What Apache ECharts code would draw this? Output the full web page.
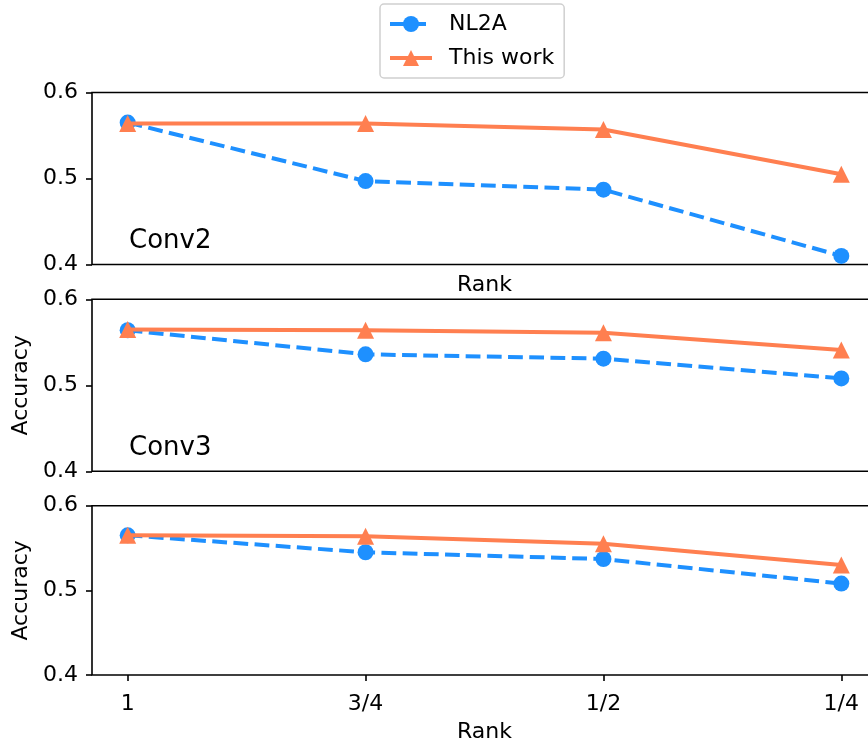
<!DOCTYPE html>
<html>
<head>
<meta charset="utf-8">
<script src="https://cdn.jsdelivr.net/npm/echarts@6/dist/echarts.min.js"></script>
<style>html,body{margin:0;padding:0;background:#fff;overflow:hidden;}#c{width:880px;height:744px;}</style>
</head>
<body>
<div id="c"></div>
<script>
const rankLabels = ["1", "3/4", "1/2", "1/4"];
const yTicks = [0.4, 0.5, 0.6];
const panelNames = ["Conv2", "Conv3", ""];
const nl2a_conv2 = [0.565, 0.497, 0.487, 0.410];
const ours_conv2 = [0.564, 0.564, 0.557, 0.505];
const nl2a_conv3 = [0.564, 0.536, 0.531, 0.508];
const ours_conv3 = [0.565, 0.564, 0.561, 0.541];
const nl2a_conv4 = [0.565, 0.545, 0.537, 0.508];
const ours_conv4 = [0.565, 0.564, 0.555, 0.530];

const nl2aAll = [nl2a_conv2, nl2a_conv3, nl2a_conv4];
const oursAll = [ours_conv2, ours_conv3, ours_conv4];

const BLUE = '#1E90FF', ORANGE = '#FF7F50';
const FONT = 'DejaVu Sans';
const FS = 22;
const tops = [92.5, 299.3, 505.7];
const H = 172;

const toPts = arr => arr.map((v, i) => [i, v]);
const idx = rankLabels.map((_, i) => i);

const grids = [], xAxes = [], yAxes = [], series = [];
for (let p = 0; p < 3; p++) {
  grids.push({left: 92, top: tops[p], width: 785, height: H, show: true,
    borderColor: '#000', borderWidth: 1.6, backgroundColor: 'transparent'});
  const last = p === 2;
  xAxes.push({type: 'value', gridIndex: p, min: -0.15, max: 3.15,
    name: (p === 0 || p === 2) ? 'Rank' : '', nameLocation: 'middle',
    nameGap: p === 0 ? 10 : 46,
    nameTextStyle: {fontFamily: FONT, fontSize: FS, color: '#000'},
    axisLine: {show: false, onZero: false}, splitLine: {show: false},
    axisTick: {show: last, length: 6, lineStyle: {color: '#000', width: 1.6}, customValues: idx},
    axisLabel: {show: last, margin: 18, fontFamily: FONT, fontSize: FS, color: '#000',
      customValues: idx, formatter: v => rankLabels[Math.round(v)]}
  });
  yAxes.push({type: 'value', gridIndex: p, min: 0.4, max: 0.6, interval: 0.1,
    name: p > 0 ? 'Accuracy' : '', nameLocation: 'middle', nameGap: 60, nameRotate: 90,
    nameTextStyle: {fontFamily: FONT, fontSize: FS, color: '#000'},
    axisLine: {show: false, onZero: false}, splitLine: {show: false},
    axisTick: {show: true, length: 6, lineStyle: {color: '#000', width: 1.6}},
    axisLabel: {margin: 14, fontFamily: FONT, fontSize: FS, color: '#000',
      formatter: v => v.toFixed(1)}
  });
  series.push({name: 'NL2A', type: 'line', xAxisIndex: p, yAxisIndex: p,
    data: toPts(nl2aAll[p]), symbol: 'circle', symbolSize: 16,
    itemStyle: {color: BLUE}, lineStyle: {color: BLUE, width: 4, type: [14.8, 6.4]},
    animation: false, z: 2});
  series.push({name: 'This work', type: 'line', xAxisIndex: p, yAxisIndex: p,
    data: toPts(oursAll[p]), symbol: 'triangle', symbolSize: 17,
    itemStyle: {color: ORANGE}, lineStyle: {color: ORANGE, width: 4},
    animation: false, z: 3});
}

const graphics = [];
for (let p = 0; p < 3; p++) {
  if (!panelNames[p]) continue;
  graphics.push({type: 'text', left: 129, top: tops[p] + 136,
    style: {text: panelNames[p], font: '26px "DejaVu Sans"', fill: '#000'}});
}

const chart = echarts.init(document.getElementById('c'), null, {renderer: 'canvas'});
chart.setOption({
  backgroundColor: '#fff',
  animation: false,
  grid: grids, xAxis: xAxes, yAxis: yAxes, series: series,
  legend: {data: ['NL2A', 'This work'], orient: 'vertical', left: 380, top: 4,
    padding: [9, 10, 9, 8], itemGap: 12, itemWidth: 42, itemHeight: 20,
    lineStyle: {width: 4},
    borderColor: '#d0d0d0', borderWidth: 1.5, borderRadius: 4, backgroundColor: '#fff',
    textStyle: {fontFamily: FONT, fontSize: FS, color: '#000', padding: [0, 0, 0, 12]}},
  graphic: graphics
});
</script>
</body>
</html>
